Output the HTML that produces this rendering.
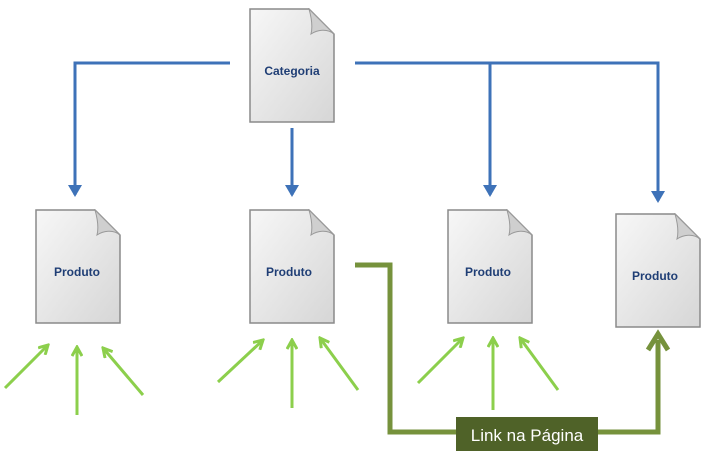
<!DOCTYPE html>
<html><head><style>body{margin:0;background:#fff}svg{display:block}</style></head><body>
<svg width="720" height="459" viewBox="0 0 720 459" xmlns="http://www.w3.org/2000/svg">
<defs>
<linearGradient id="g" x1="0" y1="0" x2="1" y2="1"><stop offset="0" stop-color="#f7f7f7"/><stop offset="1" stop-color="#d6d6d6"/></linearGradient>
<marker id="ab" markerWidth="14" markerHeight="14" refX="10" refY="7" orient="auto" markerUnits="userSpaceOnUse" viewBox="0 0 14 14"><path d="M0,0 L12,7 L0,14 z" fill="#3e72b8"/></marker>
<marker id="al" markerWidth="12" markerHeight="12" refX="10" refY="6" orient="auto" markerUnits="userSpaceOnUse" viewBox="0 0 12 12"><path d="M1,1 L10,6 L1,11" fill="none" stroke="#8ccf4c" stroke-width="3"/></marker>
<symbol id="doc" viewBox="0 0 86 115"><path d="M1,1 H60 L85,26 V114 H1 Z" fill="url(#g)" stroke="#8a8a8a" stroke-width="1.5"/><path d="M60,1 L85,26 C78,20 68,22 62,26 C64,18 62,8 60,1Z" fill="#cfcfcf" stroke="#999" stroke-width="1"/></symbol>
</defs>
<g fill="none" stroke="#3e72b8" stroke-width="3">
<path d="M230,63 H75 V195" marker-end="url(#ab)"/>
<path d="M292,128 V195" marker-end="url(#ab)"/>
<path d="M355,63 H658 V201" marker-end="url(#ab)"/>
<path d="M490,63 V195" marker-end="url(#ab)"/>
</g>
<path d="M355,265 H390 V432 H658 V340" fill="none" stroke="#76923c" stroke-width="5"/>
<path d="M648,350 L658,334 L668,350" fill="none" stroke="#76923c" stroke-width="5"/>
<g stroke="#8ccf4c" stroke-width="3" fill="none">
<path d="M5,388 L48,345" marker-end="url(#al)"/><path d="M77,415 V347" marker-end="url(#al)"/><path d="M143,395 L103,348" marker-end="url(#al)"/>
<path d="M218,382 L263,340" marker-end="url(#al)"/><path d="M292,408 V340" marker-end="url(#al)"/><path d="M358,390 L320,338" marker-end="url(#al)"/>
<path d="M418,383 L463,338" marker-end="url(#al)"/><path d="M493,410 V338" marker-end="url(#al)"/><path d="M558,390 L520,338" marker-end="url(#al)"/>
</g>
<use href="#doc" x="249" y="8" width="86" height="115"/>
<use href="#doc" x="35" y="209" width="86" height="115"/>
<use href="#doc" x="249" y="209" width="86" height="115"/>
<use href="#doc" x="447" y="209" width="86" height="115"/>
<use href="#doc" x="615" y="213" width="86" height="115"/>
<g font-family="Liberation Sans, sans-serif" font-weight="bold" font-size="12" fill="#1f3e75" text-anchor="middle">
<text x="292" y="75">Categoria</text>
<text x="77" y="276">Produto</text>
<text x="289" y="276">Produto</text>
<text x="488" y="276">Produto</text>
<text x="655" y="280">Produto</text>
</g>
<rect x="456" y="417" width="142" height="34" fill="#4f6228"/>
<text x="527" y="441" font-family="Liberation Sans, sans-serif" font-size="17" fill="#fff" text-anchor="middle">Link na Página</text>
</svg>
</body></html>
